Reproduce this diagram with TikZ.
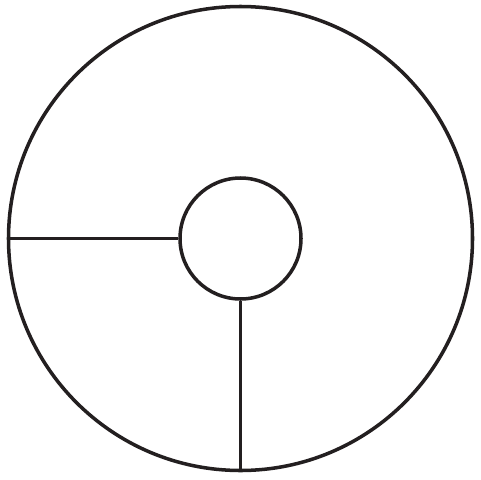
\documentclass[tikz,border=0pt]{standalone}
\usetikzlibrary{positioning}
\definecolor{ink}{HTML}{231F20}

\begin{document}
\begin{tikzpicture}
[x=0.02cm,y=-0.02cm,
ring/.style={circle,draw=ink,line width=2pt,inner sep=0pt},
spoke/.style={draw=ink,line width=1.9pt}]
%%%%%%%%%%
\useasboundingbox (0,0) rectangle (480,480);

%% circles
\node[ring,minimum size=464*0.02cm] (rim) at (240.5,238.5) {};
\node[ring,minimum size=121*0.02cm] (hub) at (240.5,238.5) {};

%% spokes
\draw[spoke] (hub.west) -- (rim.west);
\draw[spoke] (hub.south) -- (rim.south);
\end{tikzpicture}
\end{document}
